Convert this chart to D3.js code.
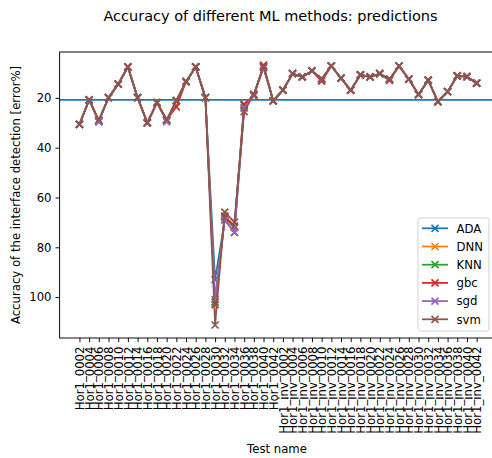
<!DOCTYPE html>
<html>
<head>
<meta charset="utf-8">
<script src="https://cdn.jsdelivr.net/npm/d3@7"></script>
<style>
  html, body { margin: 0; padding: 0; background: #fff; }
  svg { display: block; font-family: "DejaVu Sans", sans-serif; }
</style>
</head>
<body>
<svg id="chart" width="492" height="458"></svg>
<script>
// Test cases: 21 normal and 21 inverted runs
const testNames = [
  "Hor1_0002","Hor1_0004","Hor1_0006","Hor1_0008","Hor1_0010","Hor1_0012","Hor1_0014",
  "Hor1_0016","Hor1_0018","Hor1_0020","Hor1_0022","Hor1_0024","Hor1_0026","Hor1_0028",
  "Hor1_0030","Hor1_0032","Hor1_0034","Hor1_0036","Hor1_0038","Hor1_0040","Hor1_0042",
  "Hor1_inv_0002","Hor1_inv_0004","Hor1_inv_0006","Hor1_inv_0008","Hor1_inv_0010","Hor1_inv_0012","Hor1_inv_0014",
  "Hor1_inv_0016","Hor1_inv_0018","Hor1_inv_0020","Hor1_inv_0022","Hor1_inv_0024","Hor1_inv_0026","Hor1_inv_0028",
  "Hor1_inv_0030","Hor1_inv_0032","Hor1_inv_0034","Hor1_inv_0036","Hor1_inv_0038","Hor1_inv_0040","Hor1_inv_0042"
];

// Error [%] per method and test case
const ADA = [30.6,20.8,29.5,19.9,14.5,7.6,19.9,30.0,21.9,29.0,21.1,13.5,7.6,19.9,93.0,69.0,74.0,24.0,18.8,7.6,21.2,
             16.9,10.3,11.6,9.2,12.5,7.2,12.1,16.9,10.8,11.6,10.3,12.5,7.2,12.5,18.7,12.9,21.5,17.5,11.2,11.5,14.1];
const DNN = [30.6,20.8,29.2,19.9,14.5,7.6,19.9,30.0,21.9,28.9,21.1,13.5,7.6,19.9,102.0,68.0,72.0,23.0,18.8,7.4,21.2,
             16.9,10.3,11.6,9.2,12.5,7.2,12.1,16.9,10.8,11.6,10.3,12.5,7.2,12.5,18.6,12.9,21.5,17.5,11.2,11.5,14.1];
const KNN = [30.6,20.8,29.2,19.9,14.5,7.6,19.9,30.0,21.9,28.9,21.1,13.5,7.6,19.9,102.0,68.0,72.0,23.0,18.8,7.4,21.2,
             16.9,10.3,11.6,9.2,12.5,7.2,12.1,16.9,10.8,11.6,10.3,12.5,7.2,12.5,18.6,12.9,21.5,17.5,11.2,11.5,14.1];
const gbc = [30.6,20.8,29.2,19.9,14.5,7.6,19.9,30.0,21.9,28.9,23.6,13.5,7.6,19.9,103.0,67.5,71.5,22.5,19.2,6.8,21.2,
             16.9,10.3,11.6,9.2,13.3,7.2,12.1,16.9,10.8,11.6,10.3,13.0,7.2,12.5,18.6,12.9,21.5,17.5,11.2,11.5,14.1];
const sgd = [30.6,20.8,29.6,19.9,14.5,7.6,19.9,30.0,21.9,29.6,21.1,13.5,7.6,19.9,101.0,69.0,74.0,24.0,18.8,8.0,21.2,
             16.9,10.3,11.6,9.2,12.5,7.2,12.1,16.9,10.8,11.6,10.3,12.5,7.2,12.5,18.8,12.9,21.6,17.5,11.2,11.5,14.1];
const svm = [30.6,20.8,28.8,19.9,14.5,7.6,19.9,30.0,21.9,28.7,21.1,13.5,7.6,19.9,111.2,65.9,69.9,25.5,18.5,7.6,21.2,
             16.9,10.3,11.6,9.2,12.3,7.2,12.1,16.9,10.8,11.6,10.3,12.5,7.2,12.5,18.6,12.9,21.5,17.5,11.2,11.5,14.1];

const methodNames = ["ADA","DNN","KNN","gbc","sgd","svm"];
const methodColors = ["#1f77b4","#ff7f0e","#2ca02c","#d62728","#9467bd","#8c564b"];
const yTicks = [20,40,60,80,100];
const referenceLevel = 20.8;   // horizontal reference line

const series = [ADA, DNN, KNN, gbc, sgd, svm];

const svg = d3.select("#chart");
const plot = { left: 59.6, right: 496.5, top: 52, bottom: 338 };
const ink = "#000";
const fs = 11.7;       // tick / label / legend font size
const lw = 1.75;       // data line width
const tickLen = 4.1;

// x: categorical positions with 5% padding on each side
const n = testNames.length;
const pad = 0.05 * (n - 1);
const x = d3.scaleLinear().domain([-pad, n - 1 + pad]).range([plot.left, plot.right]);

// y: inverted (larger error lower), padded 5% around the data range
const all = series.flat();
const yMin = d3.min(all), yMax = d3.max(all), yPad = 0.05 * (yMax - yMin);
const y = d3.scaleLinear().domain([yMin - yPad, yMax + yPad]).range([plot.top, plot.bottom]);

// clip region for the data area
svg.append("defs").append("clipPath").attr("id", "plotclip")
  .append("rect").attr("x", plot.left).attr("y", plot.top)
  .attr("width", plot.right - plot.left).attr("height", plot.bottom - plot.top);

// title
svg.append("text").attr("x", 270.5).attr("y", 20.5).attr("text-anchor", "middle")
  .attr("font-size", 14.5).attr("fill", ink)
  .text("Accuracy of different ML methods: predictions");

const data = svg.append("g").attr("clip-path", "url(#plotclip)");

// reference line across the full width
data.append("line")
  .attr("x1", plot.left).attr("x2", plot.right)
  .attr("y1", y(referenceLevel)).attr("y2", y(referenceLevel))
  .attr("stroke", methodColors[0]).attr("stroke-width", lw);

const line = d3.line().x((d, i) => x(i)).y(d => y(d));
const crossPath = "M-3.5,-3.5L3.5,3.5M-3.5,3.5L3.5,-3.5";

series.forEach((vals, k) => {
  const g = data.append("g");
  g.append("path").datum(vals).attr("d", line)
    .attr("fill", "none").attr("stroke", methodColors[k])
    .attr("stroke-width", lw).attr("stroke-linejoin", "round");
  g.selectAll("path.m").data(vals).enter().append("path").attr("class", "m")
    .attr("d", crossPath)
    .attr("transform", (d, i) => `translate(${x(i)},${y(d)})`)
    .attr("stroke", methodColors[k]).attr("stroke-width", lw).attr("fill", "none");
});

// axes
const xAxis = d3.axisBottom(x).tickValues(d3.range(n)).tickFormat(i => testNames[i])
  .tickSize(tickLen).tickPadding(4);
const gx = svg.append("g").attr("transform", `translate(0,${plot.bottom})`).call(xAxis);
gx.select(".domain").remove();
gx.selectAll(".tick line").attr("stroke", ink).attr("stroke-width", 0.95);
gx.selectAll(".tick text")
  .attr("font-size", fs).attr("font-family", "DejaVu Sans").attr("fill", ink)
  .attr("transform", "rotate(-90)")
  .attr("text-anchor", "end").attr("x", -8.5).attr("y", 0).attr("dy", "0.35em");

const yAxis = d3.axisLeft(y).tickValues(yTicks).tickSize(tickLen).tickPadding(4);
const gy = svg.append("g").attr("transform", `translate(${plot.left},0)`).call(yAxis);
gy.select(".domain").remove();
gy.selectAll(".tick line").attr("stroke", ink).attr("stroke-width", 0.95);
gy.selectAll(".tick text").attr("font-size", fs).attr("font-family", "DejaVu Sans").attr("fill", ink);

// frame
svg.append("rect").attr("x", plot.left).attr("y", plot.top)
  .attr("width", plot.right - plot.left).attr("height", plot.bottom - plot.top)
  .attr("fill", "none").attr("stroke", ink).attr("stroke-width", 0.95);

// axis labels
svg.append("text").attr("x", 277).attr("y", 452.5).attr("text-anchor", "middle")
  .attr("font-size", fs).attr("fill", ink).text("Test name");
svg.append("text").attr("transform", `translate(20,${(plot.top + plot.bottom) / 2}) rotate(-90)`)
  .attr("text-anchor", "middle").attr("font-size", fs).attr("fill", ink)
  .text("Accuracy of the interface detection [error%]");

// legend
const lg = svg.append("g");
lg.append("rect").attr("x", 418).attr("y", 218).attr("width", 71).attr("height", 113)
  .attr("rx", 2.5).attr("fill", "#fff").attr("fill-opacity", 0.8)
  .attr("stroke", "#d0d0d0").attr("stroke-width", 0.95);
methodNames.forEach((name, k) => {
  const cy = 228.3 + 18.2 * k;
  lg.append("line").attr("x1", 422).attr("x2", 448).attr("y1", cy).attr("y2", cy)
    .attr("stroke", methodColors[k]).attr("stroke-width", lw);
  lg.append("path").attr("d", crossPath).attr("transform", `translate(435,${cy})`)
    .attr("stroke", methodColors[k]).attr("stroke-width", lw).attr("fill", "none");
  lg.append("text").attr("x", 456.5).attr("y", cy).attr("dy", "0.36em")
    .attr("font-size", fs).attr("fill", ink).text(name);
});
</script>
</body>
</html>
